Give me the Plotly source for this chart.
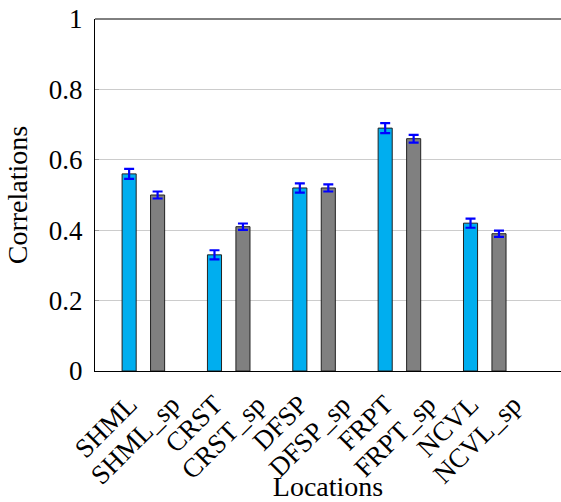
import plotly.graph_objects as go

categories = ["SHML", "SHML_sp", "CRST", "CRST_sp", "DFSP", "DFSP_sp",
              "FRPT", "FRPT_sp", "NCVL", "NCVL_sp"]
base_locations = ["SHML", "CRST", "DFSP", "FRPT", "NCVL"]
sp_locations = ["SHML_sp", "CRST_sp", "DFSP_sp", "FRPT_sp", "NCVL_sp"]
base_values = [0.56, 0.33, 0.52, 0.69, 0.42]
base_errors = [0.014, 0.013, 0.013, 0.014, 0.013]
sp_values = [0.50, 0.41, 0.52, 0.66, 0.39]
sp_errors = [0.010, 0.009, 0.010, 0.011, 0.009]
y_ticks = [0, 0.2, 0.4, 0.6, 0.8, 1]

FONT = "Liberation Serif"
BAR_W = 0.33

fig = go.Figure()
fig.add_trace(go.Bar(
    x=base_locations, y=base_values, width=BAR_W, offset=-BAR_W / 2,
    marker=dict(color="#00AEEF", line=dict(color="#222222", width=1)),
    error_y=dict(type="data", array=base_errors, color="#0000FF",
                 thickness=2.2, width=5),
    showlegend=False,
))
fig.add_trace(go.Bar(
    x=sp_locations, y=sp_values, width=BAR_W, offset=-BAR_W / 2 - 0.333,
    marker=dict(color="#808080", line=dict(color="#222222", width=1)),
    error_y=dict(type="data", array=sp_errors, color="#0000FF",
                 thickness=2.2, width=5),
    showlegend=False,
))

fig.update_layout(
    width=561, height=502,
    margin=dict(l=95, r=0, t=19, b=131),
    barmode="overlay",
    plot_bgcolor="white", paper_bgcolor="white",
    font=dict(family=FONT, size=27, color="black"),
    xaxis=dict(
        type="category", categoryorder="array", categoryarray=categories,
        range=[-0.8, 10.12], showline=True, linecolor="black", linewidth=1,
        showgrid=False, ticks="", tickangle=-45, automargin=False,
        tickfont=dict(family=FONT, size=27), ticklabelstandoff=6,
        title=dict(text="Locations", font=dict(family=FONT, size=28), standoff=9),
        zeroline=False,
    ),
    yaxis=dict(
        range=[0, 1], tickvals=y_ticks, showline=True, linecolor="black",
        linewidth=1, showgrid=True, gridcolor="#CCCCCC", gridwidth=1,
        ticks="inside", ticklen=4, tickcolor="#999999", automargin=False,
        ticklabeloverflow="allow",
        tickfont=dict(family=FONT, size=27), ticklabelstandoff=6,
        title=dict(text="Correlations", font=dict(family=FONT, size=28), standoff=13),
        zeroline=False,
    ),
    shapes=[dict(type="line", xref="paper", yref="paper", x0=0, x1=1, y0=1, y1=1,
                 line=dict(color="black", width=1))],
)

fig.write_html("out.html", config={"displayModeBar": False},
               post_script="document.body.style.margin='0';")
